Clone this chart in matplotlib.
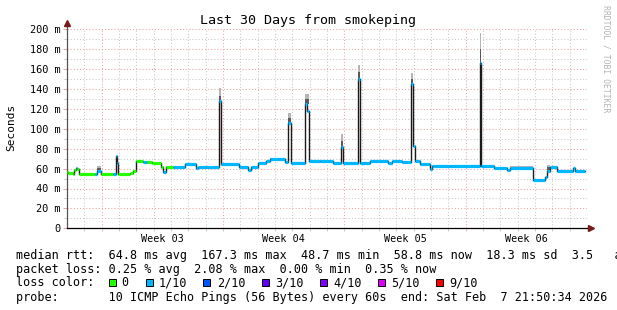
import numpy as np
import matplotlib
matplotlib.use("Agg")
import matplotlib.pyplot as plt
from matplotlib.lines import Line2D
from matplotlib.patches import Rectangle

# ---------------- data (days from start, median rtt in ms, loss class) ----------------
seg_start = [0.00, 0.08, 0.33, 0.40, 0.50, 0.56, 0.69, 1.62, 1.71, 1.94,
             2.67, 2.81, 2.90, 2.96, 3.63, 3.79, 3.96, 4.40, 4.63, 4.89,
             5.42, 5.56, 5.71, 6.13, 6.81, 7.44, 7.58, 8.79, 8.88, 9.94,
             10.46, 10.62, 11.04, 11.48, 11.71, 12.58, 12.77, 12.92, 13.73, 13.86,
             13.98, 14.60, 15.36, 15.79, 15.91, 16.77, 16.89, 17.48, 18.54, 18.73,
             19.31, 19.83, 19.98, 20.08, 20.37, 20.94, 21.08, 21.23, 22.10, 23.83,
             23.89, 24.65, 25.37, 25.56, 26.87, 27.58, 27.67, 27.87, 28.25, 29.21,
             29.31]
median_ms = [57.0, 55.7, 54.7, 58.7, 60.3, 59.7, 54.7, 54.7, 57.3, 54.7,
             54.7, 73.0, 65.3, 54.7, 56.0, 57.5, 67.3, 67.0, 67.0, 65.7,
             62.0, 57.0, 62.0, 61.3, 65.0, 60.3, 62.0, 128.0, 64.3, 62.0,
             58.7, 62.0, 65.3, 67.3, 69.3, 67.0, 106.0, 66.0, 125.0, 118.0,
             67.3, 68.0, 65.7, 82.0, 65.7, 150.3, 65.7, 68.0, 66.0, 68.0,
             67.0, 144.7, 83.0, 68.0, 64.7, 59.7, 63.0, 62.3, 63.0, 166.3,
             63.0, 60.3, 59.0, 61.0, 48.7, 51.3, 58.0, 61.3, 58.0, 60.3,
             58.0]
loss_class = [0, 0, 0, 0, 1, 0, 0, 1, 1, 0,
              1, 1, 1, 0, 0, 0, 0, 1, 0, 0,
              0, 1, 0, 1, 1, 1, 1, 1, 1, 1,
              1, 1, 1, 1, 1, 1, 1, 1, 1, 1,
              1, 1, 1, 1, 1, 1, 1, 1, 1, 1,
              1, 1, 1, 1, 1, 1, 1, 1, 1, 1,
              1, 1, 1, 1, 1, 1, 1, 1, 1, 1,
              1]
end_day = 29.88

# smoke (spread of pings) regions
smoke_start = [1.71, 8.79, 11.71, 12.77, 13.73, 15.79, 16.77, 19.83, 23.83, 25.56, 27.67]
smoke_end   = [1.94, 8.88, 12.58, 12.92, 13.98, 15.91, 16.89, 19.98, 23.89, 26.87, 27.87]
smoke_dark  = [61.0, 133.0, 69.3, 111.0, 130.0, 88.0, 157.0, 150.0, 180.0, 61.0, 61.3]
smoke_light = [63.0, 141.0, 70.7, 116.0, 135.0, 95.0, 164.0, 156.0, 196.0, 63.0, 64.0]

loss_labels = ["0", "1/10", "2/10", "3/10", "4/10", "5/10", "9/10"]
loss_colors = ["#26ff00", "#00b8ff", "#0059ff", "#5e00ff", "#7e00ff", "#dd00ff", "#ff0000"]

y_ticks = [0, 20, 40, 60, 80, 100, 120, 140, 160, 180, 200]
y_ticklabels = ["0", "20 m", "40 m", "60 m", "80 m", "100 m", "120 m", "140 m",
                "160 m", "180 m", "200 m"]
week_pos = [5.5, 12.5, 19.5, 26.5]
week_labels = ["Week 03", "Week 04", "Week 05", "Week 06"]
week_lines = [2, 9, 16, 23]

title = "Last 30 Days from smokeping"
line_rtt = "median rtt:  64.8 ms avg  167.3 ms max  48.7 ms min  58.8 ms now  18.3 ms sd  3.5   am/as"
line_loss = "packet loss: 0.25 % avg  2.08 % max  0.00 % min  0.35 % now"
line_probe = "probe:       10 ICMP Echo Pings (56 Bytes) every 60s  end: Sat Feb  7 21:50:34 2026"

# ---------------- figure ----------------
W, H = 617, 310
MONO = "DejaVu Sans Mono"
plt.rcParams['font.family'] = MONO

fig = plt.figure(figsize=(W / 100, H / 100), dpi=100)
fig.patch.set_facecolor("white")

def fx(x):
    return x / W

def fy(y):
    return 1 - y / H

ax_left, ax_right, ax_bottom, ax_top = 67, 587, 228.3, 29.3
ax = fig.add_axes([fx(ax_left), fy(ax_bottom), (ax_right - ax_left) / W, (ax_bottom - ax_top) / H])
ax.set_xlim(0, 30)
ax.set_ylim(0, 200)
ax.set_facecolor("white")

RED_GRID = "#eba3a3"
GRAY_GRID = "#c8c8c8"
dot = (0, (1, 2))

for v in range(10, 201, 10):
    ax.axhline(v, color=RED_GRID if v % 20 == 0 else GRAY_GRID, lw=0.75, ls=dot, zorder=0)
for d in range(1, 30):
    ax.axvline(d, color=RED_GRID if d in week_lines else GRAY_GRID, lw=0.75, ls=dot, zorder=0)

# smoke
starts = np.array(seg_start)
vals = np.array(median_ms)
for s, e, dk, lt in zip(smoke_start, smoke_end, smoke_dark, smoke_light):
    base = vals[np.searchsorted(starts, s, side="right") - 1]
    ax.fill_between([s, e], [base, base], [dk, dk], color="#5a5a5a", lw=0, zorder=1)
    ax.fill_between([s, e], [dk, dk], [lt, lt], color="#b5b5b5", lw=0, zorder=1)

# black median step line
xs = np.append(starts, end_day)
ys = np.append(vals, vals[-1])
ax.step(xs, ys, where="post", color="#1a1a1a", lw=1.0, zorder=2)

# coloured median (by loss)
ends = np.append(starts[1:], end_day)
ax.hlines(vals, starts, ends, colors=[loss_colors[c] for c in loss_class],
          lw=2.3, zorder=3, capstyle="butt")

# axes / ticks
for s in ["top", "right"]:
    ax.spines[s].set_visible(False)
ax.spines["left"].set_color("#555555")
ax.spines["left"].set_linewidth(0.9)
ax.spines["bottom"].set_color("#000000")
ax.spines["bottom"].set_linewidth(0.9)

ax.set_yticks(y_ticks)
ax.set_yticklabels(y_ticklabels, fontsize=7.4, family=MONO)
ax.set_yticks(list(range(10, 200, 20)), minor=True)
ax.tick_params(axis="y", which="major", length=2.7, width=0.7, color=RED_GRID, pad=2.0)
ax.tick_params(axis="y", which="minor", length=2.0, width=0.7, color=GRAY_GRID)

ax.set_xticks(week_pos)
ax.set_xticklabels(week_labels, fontsize=7.3, family=MONO)
ax.set_xticks(list(range(1, 30)), minor=True)
ax.tick_params(axis="x", which="major", length=0, pad=4.0)
ax.tick_params(axis="x", which="minor", length=2.0, width=0.7, color=GRAY_GRID)

# axis arrows
ARROW = "#7a1b1b"
fig.add_artist(Line2D([fx(67), fx(67)], [fy(29.3), fy(24)], color="#555555", lw=0.9,
                      transform=fig.transFigure))
fig.add_artist(Line2D([fx(67)], [fy(23)], marker="^", markersize=4.2, color=ARROW,
                      transform=fig.transFigure, lw=0))
fig.add_artist(Line2D([fx(587), fx(590)], [fy(228.3), fy(228.3)], color="#000000", lw=0.9,
                      transform=fig.transFigure))
fig.add_artist(Line2D([fx(591)], [fy(228.3)], marker=">", markersize=4.2, color=ARROW,
                      transform=fig.transFigure, lw=0))

# texts
fig.text(fx(308), fy(24), title, ha="center", va="baseline", fontsize=9.6, family=MONO)
fig.text(fx(11), fy(127), "Seconds", rotation=90, ha="center", va="center", fontsize=8, family=MONO)
fig.text(fx(606), fy(59), "RRDTOOL / TOBI OETIKER", rotation=270, ha="center", va="center",
         fontsize=5.9, family=MONO, color="#b4b4b4")

TXT = 8.5
fig.text(fx(16), fy(259), line_rtt, ha="left", va="baseline", fontsize=TXT, family=MONO)
fig.text(fx(16), fy(272.5), line_loss, ha="left", va="baseline", fontsize=TXT, family=MONO)
fig.text(fx(16), fy(286.5), "loss color:", ha="left", va="baseline", fontsize=TXT, family=MONO)
fig.text(fx(16), fy(300.5), line_probe, ha="left", va="baseline", fontsize=TXT, family=MONO)

sq_left = [109, 145.7, 203.3, 261.7, 320, 377.7, 436]
lbl_left = [121, 159, 217, 275, 333, 391, 449]
for sx, lx, lab, col in zip(sq_left, lbl_left, loss_labels, loss_colors):
    fig.add_artist(Rectangle((fx(sx), fy(286)), 7 / W, 7 / H, facecolor=col,
                             edgecolor="black", lw=0.7, transform=fig.transFigure))
    fig.text(fx(lx), fy(286.5), lab, ha="left", va="baseline", fontsize=TXT, family=MONO)

fig.savefig("out.png", dpi=100, facecolor="white")
